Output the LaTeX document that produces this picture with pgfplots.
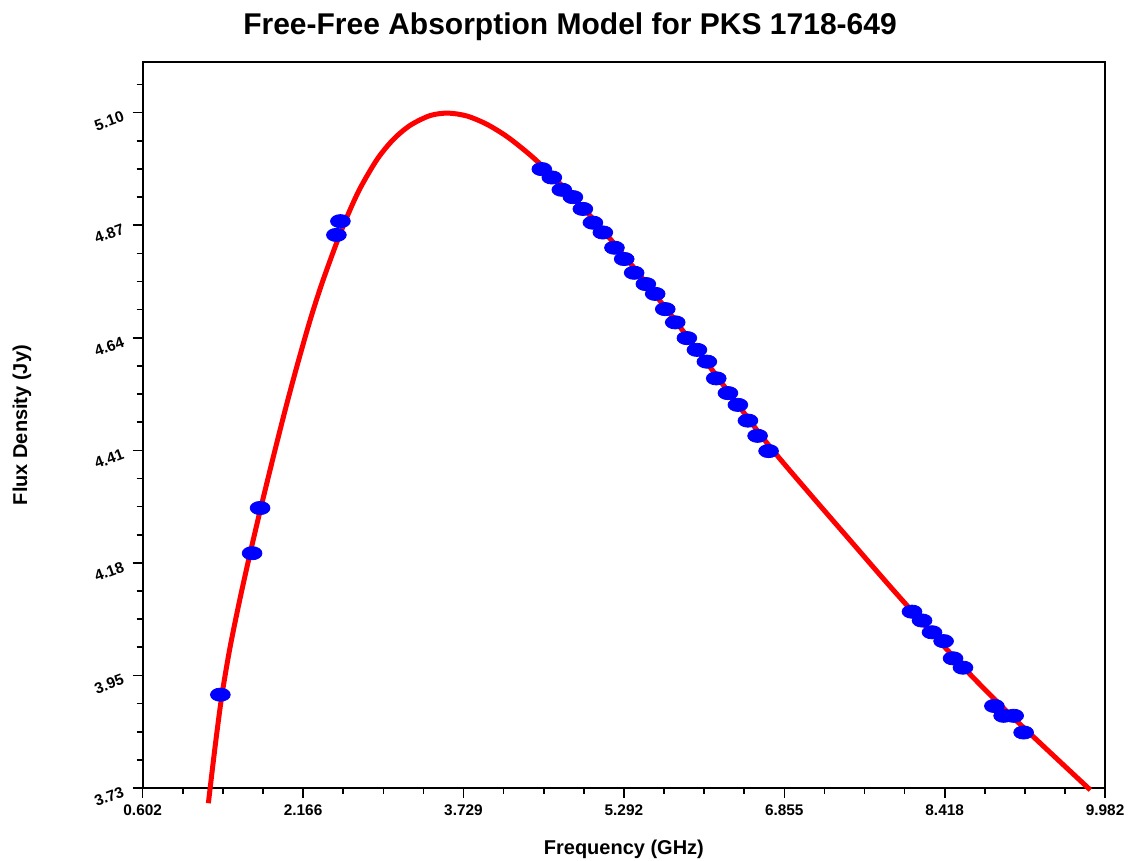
\documentclass[border=0pt]{standalone}
\usepackage{fontspec}
\setmainfont{Liberation Sans}
\usepackage{pgfplots}
\pgfplotsset{compat=1.18}
\begin{document}
\begin{tikzpicture}
\useasboundingbox (-71.35pt,-36.5pt) rectangle (493.15pt,394pt);
\begin{axis}[
  at={(0,0)}, anchor=south west,
  scale only axis, width=481.2pt, height=362.8pt,
  xmin=0.602, xmax=9.982, ymin=3.725, ymax=5.2023,
  clip=false,
  axis line style={line width=1pt},
  tick pos=left, tick align=outside,
  major tick length=5pt, minor tick length=3pt,
  every tick/.style={black, line width=0.8pt},
  xtick={0.602,2.16533,3.72867,5.292,6.85533,8.41867,9.982},
  xticklabels={0.602,2.166,3.729,5.292,6.855,8.418,9.982},
  minor xtick={0.99283,1.38367,1.7745,2.55617,2.947,3.33783,4.1195,4.51033,4.90117,5.68283,6.07367,6.4645,7.24617,7.637,8.02783,8.8095,9.20033,9.59117},
  ytick={3.725,3.95417,4.18333,4.4125,4.64167,4.87083,5.1},
  yticklabels={3.73,3.95,4.18,4.41,4.64,4.87,5.10},
  minor ytick={3.78229,3.83958,3.89688,4.01146,4.06875,4.12604,4.24063,4.29792,4.35521,4.46979,4.52708,4.58438,4.69896,4.75625,4.81354,4.92813,4.98542,5.04271,5.15729},
  /pgf/number format/assume math mode=true,
  ticklabel style={font=\bfseries\fontsize{7.7}{9}\selectfont},
  yticklabel style={rotate=20, anchor=east, xshift=-1.5pt},
  xlabel={Frequency (GHz)},
  xlabel style={font=\bfseries\fontsize{10}{12}\selectfont, at={(axis description cs:0.5,-0.0923)}, anchor=base},
  ylabel={Flux Density (Jy)},
  ylabel style={font=\bfseries\fontsize{10}{12}\selectfont, at={(axis description cs:-0.1254,0.5)}, anchor=center},
]
% measured flux densities
\addplot[only marks, mark=*, mark size=3.3pt, color=blue, mark options={xscale=1.5}] coordinates {
  (1.359,3.915) (1.668,4.203) (1.746,4.295) (2.490,4.851) (2.529,4.879)
  (4.492,4.985) (4.590,4.968) (4.687,4.943) (4.795,4.928) (4.892,4.904)
  (4.990,4.876) (5.087,4.856) (5.200,4.825) (5.295,4.802) (5.392,4.774)
  (5.506,4.751) (5.597,4.731) (5.695,4.700) (5.792,4.673) (5.906,4.641)
  (6.004,4.617) (6.101,4.593) (6.192,4.559) (6.306,4.529) (6.403,4.505)
  (6.501,4.473) (6.595,4.442) (6.702,4.411)
  (8.100,4.084) (8.198,4.066) (8.295,4.042) (8.408,4.024) (8.500,3.989)
  (8.597,3.970) (8.903,3.892) (8.993,3.872) (9.091,3.872) (9.188,3.838)
};
% fitted model
\addplot[smooth, tension=0.5, color=red, line width=2.5pt] coordinates {
  (1.242,3.694) (1.307,3.808) (1.372,3.911) (1.453,4.011) (1.551,4.111)
  (1.648,4.202) (1.746,4.289) (1.863,4.389) (1.990,4.494) (2.107,4.585)
  (2.233,4.677) (2.350,4.753) (2.494,4.836) (2.604,4.893) (2.721,4.946)
  (2.887,5.005) (3.043,5.045) (3.208,5.074) (3.403,5.094) (3.579,5.099)
  (3.764,5.093) (3.959,5.076) (4.154,5.051) (4.349,5.019) (4.492,4.992)
  (4.768,4.934) (5.061,4.867) (5.402,4.781) (5.743,4.690) (6.085,4.595)
  (6.426,4.499) (6.718,4.419) (7.108,4.323) (7.498,4.229) (7.888,4.135)
  (8.278,4.044) (8.668,3.956) (9.058,3.874) (9.448,3.797) (9.838,3.721)
};
\node[font=\bfseries\fontsize{15}{18}\selectfont, anchor=base] at (axis description cs:0.444,1.0391) {Free-Free Absorption Model for PKS 1718-649};
\end{axis}
\end{tikzpicture}
\end{document}
